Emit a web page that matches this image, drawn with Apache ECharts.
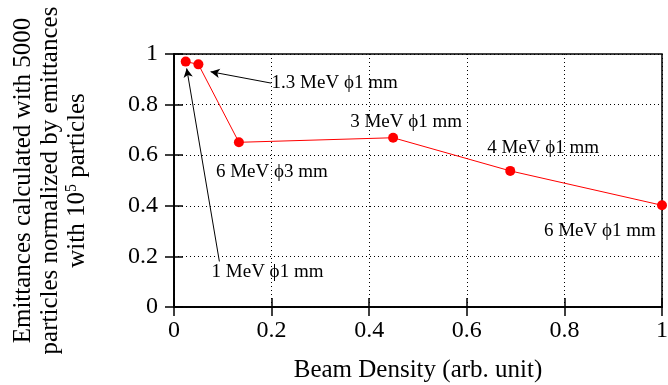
<!DOCTYPE html>
<html>
<head>
<meta charset="utf-8">
<script src="https://cdn.jsdelivr.net/npm/echarts@6/dist/echarts.min.js"></script>
<style>html,body{margin:0;padding:0;background:#fff}#c{width:668px;height:385px}</style>
</head>
<body>
<div id="c"></div>
<script>
// Data
const densityX = [0.024, 0.05, 0.133, 0.449, 0.689, 1.0];
const emitRatio = [0.970, 0.959, 0.651, 0.669, 0.538, 0.402];
const tickValues = [0, 0.2, 0.4, 0.6, 0.8, 1];
const annText = ['1.3 MeV ϕ1 mm', '1 MeV ϕ1 mm', '6 MeV ϕ3 mm', '3 MeV ϕ1 mm', '4 MeV ϕ1 mm', '6 MeV ϕ1 mm'];
const annX = [0.200, 0.077, 0.086, 0.361, 0.642, 0.758];
const annY = [0.884, 0.138, 0.535, 0.732, 0.627, 0.300];
const arrowFrom = [[0.199, 0.885], [0.093, 0.180]];
const arrowTo = [[0.075, 0.930], [0.026, 0.943]];

const FF = 'Liberation Serif';
const chart = echarts.init(document.getElementById('c'));
const axisCommon = {
  type: 'value', min: 0, max: 1, interval: 0.2,
  axisLine: {show: true, lineStyle: {color: '#000', width: 1.5}},
  axisTick: {show: true, inside: true, length: 9, lineStyle: {color: '#000', width: 1.5}},
};
chart.setOption({
  animation: false,
  backgroundColor: '#fff',
  grid: {left: 174, right: 6, top: 54, bottom: 78, show: true, borderColor: '#000', borderWidth: 1.5,
         containLabel: false, outerBoundsMode: 'none'},
  xAxis: [
    Object.assign({}, axisCommon, {
      position: 'bottom',
      name: 'Beam Density (arb. unit)', nameLocation: 'middle', nameGap: 51,
      nameTextStyle: {fontFamily: FF, fontSize: 25, color: '#000'},
      axisLabel: {fontFamily: FF, fontSize: 24, color: '#000', margin: 12, formatter: v => String(+v.toFixed(1))},
      splitLine: {show: true, lineStyle: {color: '#000', type: [1, 3], width: 1}}
    }),
    Object.assign({}, axisCommon, {position: 'top', axisLabel: {show: false}, splitLine: {show: false}})
  ],
  yAxis: [
    Object.assign({}, axisCommon, {
      position: 'left',
      name: '{n|Emittances calculated with 5000}\n{n|particles normalized by emittances}\n{n|with 10}{s|5}{n| particles}',
      nameLocation: 'middle', nameGap: 83,
      nameTextStyle: {
        fontFamily: FF, fontSize: 25, color: '#000', align: 'center',
        rich: {
          n: {fontFamily: FF, fontSize: 25, lineHeight: 27, color: '#000'},
          s: {fontFamily: FF, fontSize: 16, lineHeight: 16, verticalAlign: 'top', color: '#000'}
        }
      },
      axisLabel: {fontFamily: FF, fontSize: 24, color: '#000', margin: 16, formatter: v => String(+v.toFixed(1))},
      splitLine: {show: true, lineStyle: {color: '#000', type: [1, 3], width: 1}}
    }),
    Object.assign({}, axisCommon, {position: 'right', axisLabel: {show: false}, splitLine: {show: false}})
  ],
  series: [
    {
      type: 'line', xAxisIndex: 0, yAxisIndex: 0,
      data: densityX.map((x, i) => [x, emitRatio[i]]),
      symbol: 'circle', symbolSize: 10,
      itemStyle: {color: '#ff0000'},
      lineStyle: {color: '#ff0000', width: 1},
      z: 5,
      markLine: {
        silent: true, symbol: ['none', 'arrow'], symbolSize: [7, 9],
        label: {show: false},
        lineStyle: {color: '#000', width: 1, type: 'solid', opacity: 1},
        data: arrowFrom.map((f, i) => [{coord: f}, {coord: arrowTo[i]}])
      }
    },
    {
      type: 'scatter', xAxisIndex: 0, yAxisIndex: 0,
      symbolSize: 0, silent: true,
      itemStyle: {opacity: 1, color: '#000'},
      data: annText.map((t, i) => ({value: [annX[i], annY[i]], name: t})),
      label: {show: true, position: 'right', distance: 0, formatter: p => p.name, opacity: 1,
              fontFamily: FF, fontSize: 19, color: '#000', verticalAlign: 'middle'}
    }
  ]
});
</script>
</body>
</html>
